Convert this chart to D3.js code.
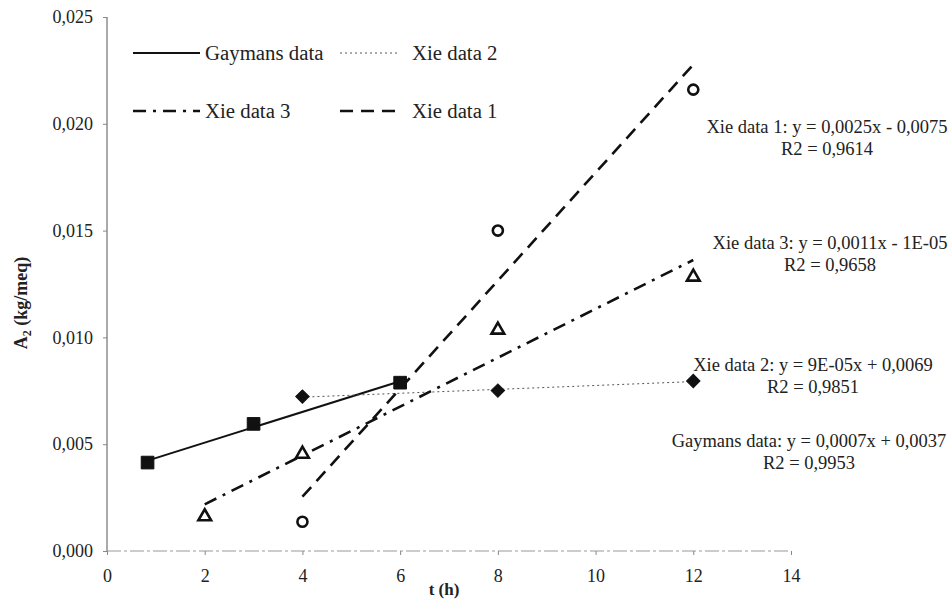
<!DOCTYPE html>
<html>
<head>
<meta charset="utf-8">
<script src="https://cdn.jsdelivr.net/npm/d3@7"></script>
<style>
  body { margin: 0; background: #fff; }
  svg { display: block; }
</style>
</head>
<body>
<svg id="chart" width="951" height="600"></svg>
<script>
// values
var gaymansT = [0.83, 3, 6],
    gaymansA = [0.00414, 0.00595, 0.00788],
    xie1T = [4, 8, 12],
    xie1A = [0.00137, 0.0150, 0.0216],
    xie2T = [4, 8, 12],
    xie2A = [0.00723, 0.00751, 0.00796],
    xie3T = [2, 4, 8, 12],
    xie3A = [0.00161, 0.00454, 0.01035, 0.01283],
    xTicks = [0, 2, 4, 6, 8, 10, 12, 14],
    yTicks = [0, 0.005, 0.010, 0.015, 0.020, 0.025],
    legendNames = ["Gaymans data", "Xie data 2", "Xie data 3", "Xie data 1"],
    eqLines = [
      ["Xie data 1: y = 0,0025x - 0,0075", "R2 = 0,9614"],
      ["Xie data 3: y = 0,0011x - 1E-05", "R2 = 0,9658"],
      ["Xie data 2: y = 9E-05x + 0,0069", "R2 = 0,9851"],
      ["Gaymans data: y = 0,0007x + 0,0037", "R2 = 0,9953"]
    ];

var W = 951, H = 600,
    margin = {top: 17, right: 160, bottom: 49, left: 107},
    serif = "'Liberation Serif', 'Times New Roman', serif";

var svg = d3.select("#chart"),
    g = svg.append("g").attr("transform", "translate(" + margin.left + "," + margin.top + ")"),
    iw = W - margin.left - margin.right,
    ih = H - margin.top - margin.bottom;

var x = d3.scaleLinear().domain([0, 14]).range([0, iw]),
    y = d3.scaleLinear().domain([0, 0.025]).range([ih, 0]);

var comma = function (d) { return d3.format(".3f")(d).replace(".", ","); };

// axes
var yAxis = g.append("g").call(d3.axisLeft(y).tickValues(yTicks).tickFormat(comma).tickSize(4).tickPadding(10));
yAxis.select(".domain").attr("stroke", "#555").attr("d", "M0," + ih + "V0");
yAxis.selectAll(".tick line").attr("stroke", "#888");
yAxis.selectAll("text").style("font-family", serif).style("font-size", "18px").attr("fill", "#222");

var xAxis = g.append("g").attr("transform", "translate(0," + ih + ")")
  .call(d3.axisBottom(x).tickValues(xTicks).tickSize(4).tickPadding(14));
xAxis.select(".domain").attr("stroke", "#999").attr("stroke-dasharray", "14,3,3,3").attr("d", "M0,0H" + iw);
xAxis.selectAll(".tick line").attr("stroke", "#888");
xAxis.selectAll("text").style("font-family", serif).style("font-size", "18px").attr("fill", "#222");

// axis titles
svg.append("text")
  .attr("transform", "translate(27,303) rotate(-90)")
  .attr("text-anchor", "middle")
  .style("font-family", serif).style("font-size", "18px").style("font-weight", "bold")
  .attr("fill", "#222")
  .html('A<tspan font-size="12" dy="4">2</tspan><tspan dy="-4"> (kg/meq)</tspan>');
svg.append("text")
  .attr("x", 444).attr("y", 595)
  .attr("text-anchor", "middle")
  .style("font-family", serif).style("font-size", "17px").style("font-weight", "bold")
  .attr("fill", "#222")
  .text("t (h)");

// least squares trend line over the range of each series
function fit(ts, as) {
  var mt = d3.mean(ts), ma = d3.mean(as),
      sxy = d3.sum(ts, function (t, i) { return (t - mt) * (as[i] - ma); }),
      sxx = d3.sum(ts, function (t) { return (t - mt) * (t - mt); }),
      b = sxy / sxx, a = ma - b * mt,
      ext = d3.extent(ts);
  return ext.map(function (t) { return [t, a + b * t]; });
}

var styles = {
  solid: {width: 2, dash: null, color: "#111"},
  dotted: {width: 1, dash: "2,3", color: "#555"},
  dashdot: {width: 2.6, dash: "13,7,3,7", color: "#111"},
  dashed: {width: 2.6, dash: "13,8", color: "#111"}
};

var series = [
  {t: gaymansT, a: gaymansA, style: "solid", mark: "square"},
  {t: xie2T, a: xie2A, style: "dotted", mark: "diamond"},
  {t: xie3T, a: xie3A, style: "dashdot", mark: "triangle"},
  {t: xie1T, a: xie1A, style: "dashed", mark: "circle"}
];

var line = d3.line().x(function (d) { return x(d[0]); }).y(function (d) { return y(d[1]); });

series.forEach(function (s) {
  var st = styles[s.style];
  g.append("path")
    .datum(fit(s.t, s.a))
    .attr("d", line)
    .attr("fill", "none")
    .attr("stroke", st.color)
    .attr("stroke-width", st.width)
    .attr("stroke-dasharray", st.dash);
});

var symbols = {
  square: d3.symbol().type(d3.symbolSquare).size(160),
  diamond: d3.symbol().type(d3.symbolSquare).size(90),
  triangle: d3.symbol().type(d3.symbolTriangle).size(70),
  circle: d3.symbol().type(d3.symbolCircle).size(80)
};

series.forEach(function (s) {
  var open = s.mark === "triangle" || s.mark === "circle";
  g.selectAll(null)
    .data(s.t.map(function (t, i) { return [t, s.a[i]]; }))
    .enter().append("path")
    .attr("transform", function (d) {
      return "translate(" + x(d[0]) + "," + y(d[1]) + ")" + (s.mark === "diamond" ? " rotate(45)" : "");
    })
    .attr("d", symbols[s.mark])
    .attr("fill", open ? "#fff" : "#111")
    .attr("stroke", "#111")
    .attr("stroke-width", open ? 2.6 : 1);
});

// legend
var legendPos = [[133, 53], [340, 53], [133, 111], [340, 111]];
series.forEach(function (s, i) {
  var st = styles[s.style], p = legendPos[i];
  svg.append("line")
    .attr("x1", p[0]).attr("x2", p[0] + (i % 2 ? 58 : 67))
    .attr("y1", p[1]).attr("y2", p[1])
    .attr("stroke", st.color)
    .attr("stroke-width", st.width)
    .attr("stroke-dasharray", st.dash);
  svg.append("text")
    .attr("x", p[0] + 72).attr("y", p[1] + 7)
    .style("font-family", serif).style("font-size", "20.8px")
    .attr("fill", "#222")
    .text(legendNames[i]);
});

// trend equations
var eqPos = [[827, 133], [830, 249], [813, 371], [809, 447]];
eqLines.forEach(function (ls, i) {
  ls.forEach(function (txt, j) {
    svg.append("text")
      .attr("x", eqPos[i][0]).attr("y", eqPos[i][1] + j * 22)
      .attr("text-anchor", "middle")
      .style("font-family", serif).style("font-size", "18.5px")
      .attr("fill", "#222")
      .text(txt);
  });
});
</script>
</body>
</html>
